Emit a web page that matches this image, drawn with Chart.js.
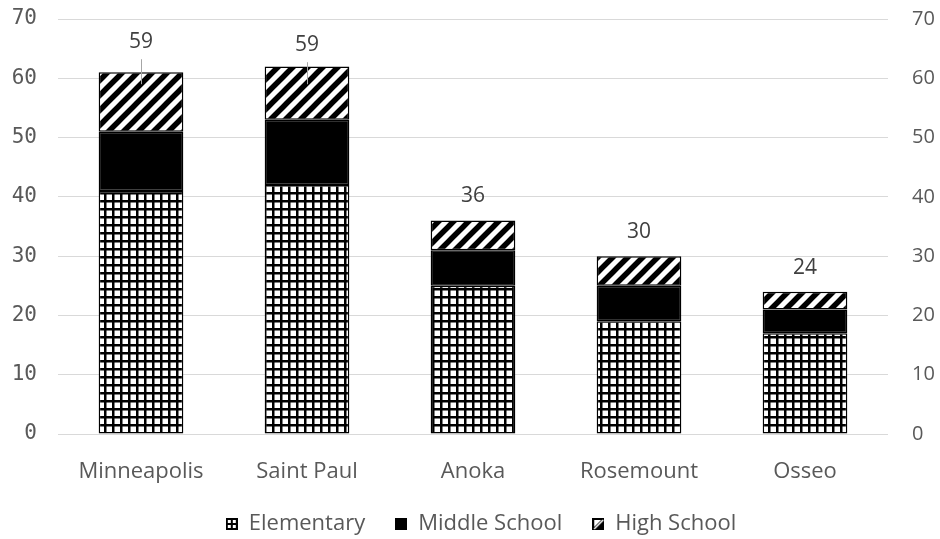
<!DOCTYPE html>
<html>
<head>
<meta charset="utf-8">
<script src="https://cdn.jsdelivr.net/npm/chart.js@4/dist/chart.umd.min.js"></script>
<style>
  html, body { margin: 0; padding: 0; background: #fff; }
  #wrap { width: 940px; height: 539px; }
</style>
</head>
<body>
<div id="wrap"><canvas id="chart"></canvas></div>
<script>
// School counts by district
const districts = ['Minneapolis', 'Saint Paul', 'Anoka', 'Rosemount', 'Osseo'];
const elementary = [41, 42, 25, 19, 17];
const middleSchool = [10, 11, 6, 6, 4];
const highSchool = [10, 9, 5, 5, 3];
// Distinct schools per district (shown above each column)
const totalSchools = [59, 59, 36, 30, 24];
const axisMin = 0;
const axisMax = 70;
const axisStep = 10;

// How far each total label sits above its anchor point (px)
const labelLift = [42, 39, 25, 24, 24];
// Horizontal nudge of the legend row (px)
const legendShift = 11;

const TEXT_GRAY = '#595959';
const SANS = '"Open Sans", "Noto Sans", sans-serif';

function makeTile(size, draw) {
  const c = document.createElement('canvas');
  c.width = size; c.height = size;
  const g = c.getContext('2d');
  g.fillStyle = '#fff';
  g.fillRect(0, 0, size, size);
  draw(g, size);
  return c;
}
function asPattern(tile) {
  return document.getElementById('chart').getContext('2d').createPattern(tile, 'repeat');
}

// Small square grid for elementary
const gridFill = asPattern(makeTile(8, (g, s) => {
  g.fillStyle = '#000';
  g.fillRect(0, 0, s, 2.5);
  g.fillRect(0, 0, 2.5, s);
}));

// Wide forward diagonal for high school
const diagFill = asPattern(makeTile(15, (g, s) => {
  g.strokeStyle = '#000';
  g.lineWidth = 5.5;
  g.beginPath();
  g.moveTo(0, s); g.lineTo(s, 0);
  g.moveTo(-s / 2, s / 2); g.lineTo(s / 2, -s / 2);
  g.moveTo(s / 2, 3 * s / 2); g.lineTo(3 * s / 2, s / 2);
  g.stroke();
}));

// Legend swatches
const ICON = 12;
const elementaryIcon = makeTile(ICON, (g, s) => {
  g.fillStyle = '#000';
  g.fillRect(0, 0, s, 2); g.fillRect(0, s - 2, s, 2);
  g.fillRect(0, 0, 2, s); g.fillRect(s - 2, 0, 2, s);
  g.fillRect(0, s / 2 - 1, s, 2); g.fillRect(s / 2 - 1, 0, 2, s);
});
const middleIcon = makeTile(ICON, (g, s) => {
  g.fillStyle = '#000';
  g.fillRect(0, 0, s, s);
});
const highIcon = makeTile(ICON, (g, s) => {
  g.fillStyle = '#000';
  g.fillRect(0, 0, s, s);
  g.fillStyle = '#fff';
  g.beginPath();
  g.moveTo(2, 2); g.lineTo(s - 3, 2); g.lineTo(2, s - 3);
  g.closePath();
  g.fill();
  g.strokeStyle = '#fff';
  g.lineWidth = 1.5;
  g.beginPath();
  g.moveTo(2, s - 1); g.lineTo(s - 1, 2);
  g.stroke();
});

const totalLabels = {
  id: 'totalLabels',
  afterLayout(chart) {
    if (chart.legend) {
      chart.legend.left += legendShift;
      chart.legend.right += legendShift;
    }
  },
  afterDatasetsDraw(chart) {
    const meta = chart.getDatasetMeta(3);
    const ctx = chart.ctx;
    ctx.save();
    ctx.font = '21px ' + SANS;
    ctx.fillStyle = '#404040';
    ctx.textAlign = 'center';
    ctx.textBaseline = 'middle';
    meta.data.forEach((pt, i) => {
      const ty = pt.y - labelLift[i];
      if (labelLift[i] > 30) {
        ctx.strokeStyle = '#a6a6a6';
        ctx.lineWidth = 1;
        ctx.beginPath();
        ctx.moveTo(Math.round(pt.x) + 0.5, ty + 17);
        ctx.lineTo(Math.round(pt.x) + 0.5, pt.y);
        ctx.stroke();
      }
      ctx.fillText(String(totalSchools[i]), pt.x, ty);
    });
    ctx.restore();
  }
};

const barCommon = {
  borderColor: '#000',
  borderWidth: 1.5,
  borderSkipped: false,
  barPercentage: 0.51,
  categoryPercentage: 1.0,
  yAxisID: 'y'
};

// Vertical axes: fixed width, no extra overhang above/below the plot
function fixAxis(width) {
  return (s) => {
    s.width = width;
    s.paddingTop = 0;
    s.paddingBottom = 0;
  };
}

new Chart(document.getElementById('chart'), {
  type: 'bar',
  data: {
    labels: districts,
    datasets: [
      Object.assign({ label: 'Elementary', data: elementary, backgroundColor: gridFill, pointStyle: elementaryIcon }, barCommon),
      Object.assign({ label: 'Middle School', data: middleSchool, backgroundColor: '#000', pointStyle: middleIcon }, barCommon),
      Object.assign({ label: 'High School', data: highSchool, backgroundColor: diagFill, pointStyle: highIcon }, barCommon),
      {
        type: 'line',
        label: 'Total',
        data: totalSchools,
        yAxisID: 'y2',
        showLine: false,
        pointRadius: 0,
        pointHoverRadius: 0
      }
    ]
  },
  plugins: [totalLabels],
  options: {
    responsive: true,
    maintainAspectRatio: false,
    animation: false,
    events: [],
    layout: { padding: { top: 19, left: 0, right: 0, bottom: -6 } },
    plugins: {
      tooltip: { enabled: false },
      legend: {
        position: 'bottom',
        labels: {
          filter: (item) => item.datasetIndex < 3,
          usePointStyle: true,
          boxWidth: ICON,
          boxHeight: ICON,
          padding: 30,
          color: TEXT_GRAY,
          font: { family: SANS, size: 22 }
        }
      }
    },
    scales: {
      x: {
        stacked: true,
        grid: { display: false, drawTicks: false },
        border: { display: false },
        ticks: { color: TEXT_GRAY, padding: 25, font: { family: SANS, size: 22 } },
        afterFit: (s) => { s.height = 49; }
      },
      y: {
        stacked: true,
        position: 'left',
        min: axisMin, max: axisMax,
        grid: { color: '#d9d9d9', lineWidth: 1, drawTicks: false },
        border: { display: false },
        ticks: { stepSize: axisStep, color: TEXT_GRAY, padding: 21, font: { family: '"DejaVu Sans Mono", monospace', size: 21 } },
        afterFit: fixAxis(58)
      },
      y2: {
        stacked: false,
        position: 'right',
        min: axisMin, max: axisMax,
        grid: { display: false, drawTicks: false },
        border: { display: false },
        ticks: { stepSize: axisStep, color: TEXT_GRAY, padding: 24, font: { family: SANS, size: 20 } },
        afterFit: fixAxis(52)
      }
    }
  }
});
</script>
</body>
</html>
